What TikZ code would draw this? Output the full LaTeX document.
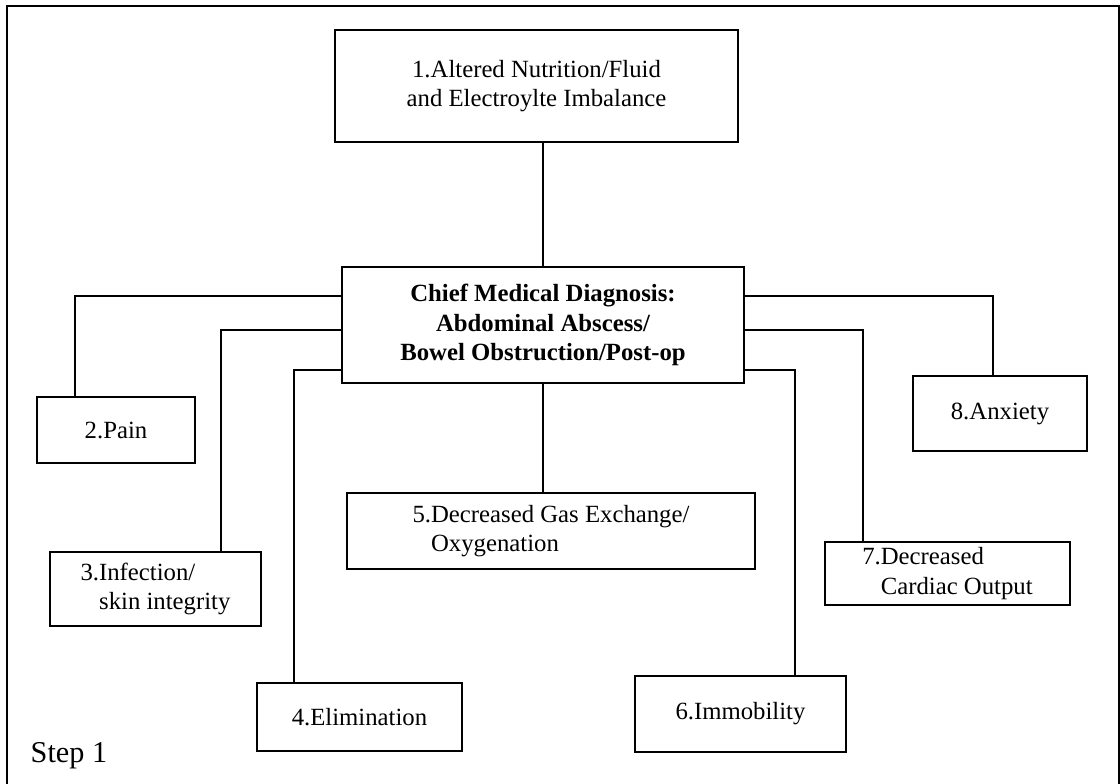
\documentclass[tikz,border=0pt]{standalone}
\usepackage{fontspec}
\setmainfont{Liberation Serif}
\usepackage{tikz}
\usetikzlibrary{positioning,calc}
\newcommand*{\px}{0.025cm}
\newcommand*{\dxfont}{\fontsize{17.6}{20.8}\selectfont}

\begin{document}
\begin{tikzpicture}[x=\px, y=-\px, line width=1pt, font=\dxfont]
    \tikzstyle{diag}=[draw=black,rectangle,inner sep=0pt,align=center,text=black]
    \useasboundingbox (0,0) rectangle (1120,784);
    \draw (7,784) -- (7,6) -- (1119,6) -- (1119,784);
    \node[diag, minimum width=403*\px, minimum height=112*\px]  (top)   at (536.5,86)    {1.Altered Nutrition/Fluid\\and Electroylte Imbalance};
    \node[diag, minimum width=402*\px, minimum height=116*\px, font=\dxfont\bfseries]
                                                                (chief) at (543,325)     {Chief Medical Diagnosis:\\Abdominal Abscess/\\Bowel Obstruction/Post-op};
    \node[diag, minimum width=158*\px, minimum height=66*\px]   (b2)    at (116,430)     {2.Pain};
    \node[diag, minimum width=211*\px, minimum height=74*\px, align=left]
                                                                (b3)    at (155.5,589)   {3.Infection/\\\hspace*{0.75em}skin integrity};
    \node[diag, minimum width=205*\px, minimum height=68*\px]   (b4)    at (359.5,717)   {4.Elimination};
    \node[diag, minimum width=408*\px, minimum height=76*\px, align=left]
                                                                (b5)    at (551,531)     {5.Decreased Gas Exchange/\\\hspace*{0.75em}Oxygenation};
    \node[diag, minimum width=211*\px, minimum height=76*\px]   (b6)    at (740.5,714)   {6.Immobility};
    \node[diag, minimum width=245*\px, minimum height=63*\px, align=left]
                                                                (b7)    at (947.5,573.5) {7.Decreased\\\hspace*{0.75em}Cardiac Output};
    \node[diag, minimum width=174*\px, minimum height=75*\px]   (b8)    at (1000,413.5)  {8.Anxiety};
    \node[anchor=base west, inner sep=0pt, font=\fontsize{21.5}{25}\selectfont]
                                                                (step)  at (30,762)      {Step 1};
    % elbows of the branch lines
    \coordinate (k2) at (75,296);
    \coordinate (k3) at (221,330);
    \coordinate (k4) at (294,370);
    \coordinate (k6) at (795,370);
    \coordinate (k7) at (863,330);
    \coordinate (k8) at (993,296);
    \draw (chief.north) -- (chief.north |- top.south);
    \draw (chief.south) -- (chief.south |- b5.north);
    \foreach \b/\s in {2/west,3/west,4/west,6/east,7/east,8/east}
        \draw (chief.\s |- k\b) -- (k\b) -- (k\b |- b\b.north);
\end{tikzpicture}
\end{document}
